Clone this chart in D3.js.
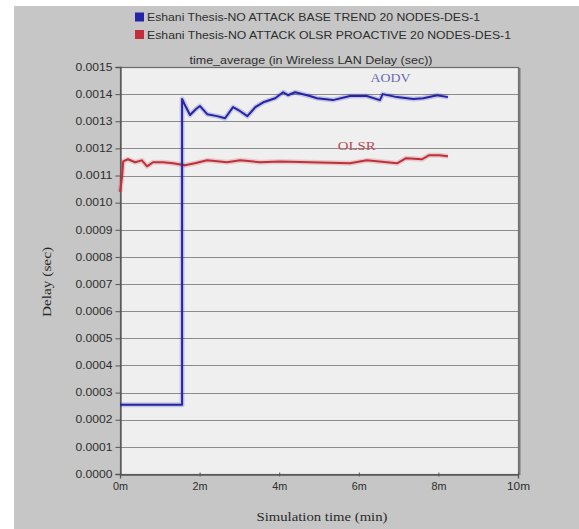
<!DOCTYPE html>
<html>
<head>
<meta charset="utf-8">
<script src="https://cdn.jsdelivr.net/npm/d3@7"></script>
<style>
  html, body { margin: 0; padding: 0; background: #ffffff; }
  svg { display: block; }
</style>
</head>
<body>
<svg id="chart" width="579" height="529"></svg>
<script>
// Average wireless LAN delay over simulation time (minutes)
const legendLabels = [
  "Eshani Thesis-NO ATTACK BASE TREND 20 NODES-DES-1",
  "Eshani Thesis-NO ATTACK OLSR PROACTIVE 20 NODES-DES-1"
];
const seriesColors = ["#2424a8", "#c0303a"];
const xTicks = [0, 2, 4, 6, 8, 10];
const xTickLabels = ["0m", "2m", "4m", "6m", "8m", "10m"];
const yTicks = [0, 0.0001, 0.0002, 0.0003, 0.0004, 0.0005, 0.0006, 0.0007,
  0.0008, 0.0009, 0.0010, 0.0011, 0.0012, 0.0013, 0.0014, 0.0015];

// AODV (base trend): time in minutes, delay in seconds
const aodvTime = [0, 1.56, 1.56, 1.62, 1.76, 1.91, 2.01, 2.19, 2.44, 2.64, 2.84,
  3.02, 3.20, 3.40, 3.60, 3.90, 4.10, 4.22, 4.40, 4.77, 4.95, 5.35, 5.78, 6.20,
  6.53, 6.60, 6.96, 7.37, 7.62, 7.97, 8.24];
const aodvDelay = [0.000255, 0.000255, 0.001382, 0.001363, 0.001323, 0.001345,
  0.001356, 0.001326, 0.001319, 0.001311, 0.001352, 0.001337, 0.001319, 0.001352,
  0.00137, 0.001385, 0.001407, 0.001396, 0.001407, 0.001393, 0.001385, 0.001378,
  0.001393, 0.001393, 0.001378, 0.0014, 0.001389, 0.001382, 0.001385, 0.001396,
  0.001389];

// OLSR (proactive)
const olsrTime = [0, 0.05, 0.08, 0.20, 0.38, 0.55, 0.68, 0.83, 1.08, 1.33, 1.63,
  1.88, 2.19, 2.69, 3.02, 3.52, 4.02, 4.77, 5.78, 6.20, 6.96, 7.19, 7.59, 7.77,
  8.02, 8.24];
const olsrDelay = [0.00104, 0.001093, 0.001152, 0.00116, 0.001149, 0.001156,
  0.001134, 0.001149, 0.001149, 0.001145, 0.001138, 0.001145, 0.001156,
  0.001149, 0.001156, 0.001149, 0.001152, 0.001149, 0.001145, 0.001156,
  0.001145, 0.001164, 0.00116, 0.001175, 0.001175, 0.001171];

const svg = d3.select("#chart");
const W = 579, H = 529;
const plot = { left: 120, right: 518, top: 67, bottom: 474 };
const sans = "Arial, 'Liberation Sans', sans-serif";
const serif = "'Liberation Serif', 'Times New Roman', serif";

// window background
svg.append("rect").attr("x", 14).attr("y", 6)
  .attr("width", W - 14).attr("height", H - 6).attr("fill", "#c6c6c6");

const x = d3.scaleLinear().domain([0, 10]).range([plot.left, plot.right]);
const y = d3.scaleLinear().domain([0, 0.0015]).range([plot.bottom, plot.top]);

// plot area
svg.append("rect")
  .attr("x", plot.left).attr("y", plot.top)
  .attr("width", plot.right - plot.left).attr("height", plot.bottom - plot.top)
  .attr("fill", "#efefef");

// horizontal grid
svg.append("g").selectAll("line").data(yTicks.slice(1, -1)).join("line")
  .attr("x1", plot.left).attr("x2", plot.right)
  .attr("y1", d => Math.round(y(d)) + 0.5).attr("y2", d => Math.round(y(d)) + 0.5)
  .attr("stroke", "#8c8c8c").attr("stroke-width", 1.2);

// frame with shadowed right edge
svg.append("rect")
  .attr("x", plot.left + 0.5).attr("y", plot.top + 0.5)
  .attr("width", plot.right - plot.left).attr("height", plot.bottom - plot.top)
  .attr("fill", "none").attr("stroke", "#6a6a6a").attr("stroke-width", 1.2);
svg.append("line").attr("x1", plot.right + 1.5).attr("x2", plot.right + 1.5)
  .attr("y1", plot.top + 1).attr("y2", plot.bottom + 1)
  .attr("stroke", "#7a7a7a").attr("stroke-width", 2);

// axes (labels stretched to the wide bitmap-style glyphs)
const yAxis = d3.axisLeft(y).tickValues(yTicks).tickFormat(d3.format(".4f"))
  .tickSize(5).tickPadding(3);
const gy = svg.append("g").attr("transform", `translate(${plot.left + 0.5},0)`).call(yAxis);
gy.select(".domain").attr("stroke", "#555").attr("stroke-width", 1.3);
gy.selectAll(".tick line").attr("stroke", "#555");
gy.selectAll(".tick text").attr("font-family", sans)
  .attr("font-size", 10).attr("textLength", 37).attr("lengthAdjust", "spacingAndGlyphs")
  .attr("fill", "#2e2e2e");

const xAxis = d3.axisBottom(x).tickValues(xTicks)
  .tickFormat((d, i) => xTickLabels[i]).tickSize(4).tickPadding(4);
const gx = svg.append("g").attr("transform", `translate(0,${plot.bottom + 0.5})`).call(xAxis);
gx.select(".domain").attr("stroke", "#555").attr("stroke-width", 1.3);
gx.selectAll(".tick line").attr("stroke", "#555").attr("transform", "translate(0,-2)");
gx.selectAll(".tick text").attr("font-family", sans)
  .attr("font-size", 10).attr("lengthAdjust", "spacingAndGlyphs")
  .attr("textLength", (d, i) => xTickLabels[i].length > 2 ? 23 : 15)
  .attr("fill", "#2e2e2e");

// series lines
const line = d3.line().x(d => x(d[0])).y(d => y(d[1]));
const aodvPts = aodvTime.map((t, i) => [t, aodvDelay[i]]);
const olsrPts = olsrTime.map((t, i) => [t, olsrDelay[i]]);

[[olsrPts, seriesColors[1]], [aodvPts, seriesColors[0]]].forEach(([pts, c]) => {
  svg.append("path").datum(pts).attr("d", line)
    .attr("fill", "none").attr("stroke", c).attr("stroke-opacity", 0.2)
    .attr("stroke-width", 5).attr("stroke-linejoin", "round");
  svg.append("path").datum(pts).attr("d", line)
    .attr("fill", "none").attr("stroke", c)
    .attr("stroke-width", 2).attr("stroke-linejoin", "round");
});

// series annotations
svg.append("text").attr("x", x(6.8)).attr("y", y(0.001443))
  .attr("text-anchor", "middle").attr("font-family", serif)
  .attr("font-size", 12).attr("textLength", 40).attr("lengthAdjust", "spacingAndGlyphs")
  .attr("fill", "#6a6ab0").text("AODV");
svg.append("text").attr("x", x(5.95)).attr("y", y(0.001195))
  .attr("text-anchor", "middle").attr("font-family", serif)
  .attr("font-size", 12).attr("textLength", 38).attr("lengthAdjust", "spacingAndGlyphs")
  .attr("fill", "#b45058").text("OLSR");

// legend
const legendWidths = [333, 364];
const leg = svg.append("g");
legendLabels.forEach((lab, i) => {
  const ly = 21 + i * 17.5;
  leg.append("rect").attr("x", 135).attr("y", ly - 8.5).attr("width", 9).attr("height", 9)
    .attr("fill", seriesColors[i]);
  leg.append("text").attr("x", 147).attr("y", ly)
    .attr("font-family", sans).attr("font-size", 10.5)
    .attr("textLength", legendWidths[i]).attr("lengthAdjust", "spacingAndGlyphs")
    .attr("fill", "#2e2e2e").text(lab);
});

// chart title
svg.append("text").attr("x", 311).attr("y", 64).attr("text-anchor", "middle")
  .attr("font-family", sans).attr("font-size", 10)
  .attr("textLength", 243).attr("lengthAdjust", "spacingAndGlyphs")
  .attr("fill", "#2e2e2e").text("time_average (in Wireless LAN Delay (sec))");

// axis titles
svg.append("text").attr("transform", "translate(51,282) rotate(-90)")
  .attr("text-anchor", "middle").attr("font-family", serif)
  .attr("font-size", 12).attr("textLength", 70).attr("lengthAdjust", "spacingAndGlyphs")
  .attr("fill", "#2a2a2a").text("Delay (sec)");
svg.append("text").attr("x", 322).attr("y", 521).attr("text-anchor", "middle")
  .attr("font-family", serif).attr("font-size", 12).attr("textLength", 131)
  .attr("lengthAdjust", "spacingAndGlyphs")
  .attr("fill", "#2a2a2a").text("Simulation time (min)");
</script>
</body>
</html>
